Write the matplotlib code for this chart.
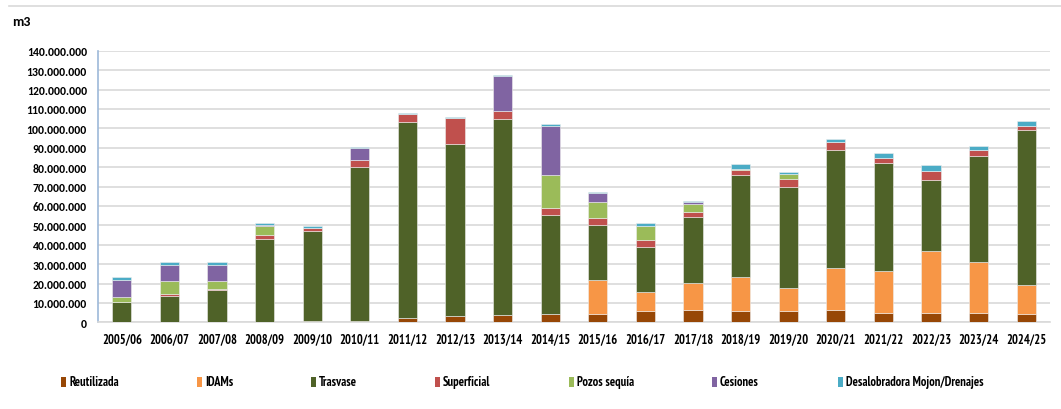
import matplotlib
matplotlib.use("Agg")
import matplotlib.pyplot as plt
from matplotlib.ticker import FuncFormatter, MultipleLocator
from matplotlib.patches import Rectangle
import numpy as np

categories = ["2005/06", "2006/07", "2007/08", "2008/09", "2009/10", "2010/11", "2011/12",
              "2012/13", "2013/14", "2014/15", "2015/16", "2016/17", "2017/18", "2018/19",
              "2019/20", "2020/21", "2021/22", "2022/23", "2023/24", "2024/25"]

# values in millions of m3
reutilizada = [0.0, 0.0, 0.0, 0.0, 0.8, 0.9, 2.0, 3.3, 4.0, 4.1, 4.5, 5.7, 6.2, 5.8, 5.8, 6.4, 4.6, 5.0, 4.6, 4.3]
idams       = [0.0, 0.0, 0.0, 0.0, 0.0, 0.0, 0.0, 0.0, 0.0, 0.0, 17.3, 10.1, 13.9, 17.7, 12.1, 21.6, 22.0, 31.6, 26.3, 15.1]
trasvase    = [10.3, 13.7, 16.5, 43.0, 46.1, 79.2, 101.4, 88.5, 101.0, 51.1, 28.5, 23.2, 34.0, 52.6, 52.0, 60.8, 55.7, 36.9, 55.0, 79.7]
superficial = [0.4, 0.7, 0.7, 2.0, 1.6, 3.6, 4.0, 13.5, 3.9, 3.9, 3.6, 3.6, 2.6, 2.6, 3.8, 4.0, 2.6, 4.7, 2.8, 2.3]
pozos       = [2.5, 6.7, 3.9, 4.8, 0.0, 0.0, 0.0, 0.0, 0.0, 17.0, 8.1, 7.2, 4.3, 0.5, 2.6, 0.0, 0.0, 0.0, 0.0, 0.0]
cesiones    = [8.6, 8.6, 8.6, 0.3, 0.0, 6.2, 0.0, 0.0, 18.1, 25.3, 4.8, 0.0, 0.9, 0.0, 0.0, 0.0, 0.0, 0.0, 0.0, 0.0]
desal       = [1.4, 1.4, 1.2, 1.1, 1.2, 0.5, 0.5, 0.5, 0.5, 1.0, 0.5, 1.4, 0.6, 2.4, 1.0, 1.5, 2.4, 2.9, 2.4, 2.6]

series_names = ["Reutilizada", "IDAMs", "Trasvase", "Superficial", "Pozos sequía", "Cesiones",
                "Desalobradora Mojon/Drenajes"]
series_vals = [reutilizada, idams, trasvase, superficial, pozos, cesiones, desal]
colors = ["#974706", "#F79646", "#4F6228", "#C0504D", "#9BBB59", "#8064A2", "#4BACC6"]

W, H = 1061, 410
fig = plt.figure(figsize=(W / 100, H / 100), dpi=100)
ax = fig.add_axes([98 / W, 1 - 323.3 / H, (1050 - 98) / W, (323.3 - 51.7) / H])

x = np.arange(len(categories))
bottom = np.zeros(len(categories))
for name, vals, c in zip(series_names, series_vals, colors):
    v = np.array(vals) * 1e6
    ax.bar(x, v, width=0.4, bottom=bottom, color=c, edgecolor="#eeeeee", linewidth=0.4,
           label=name, zorder=3)
    bottom += v

ax.set_ylim(0, 140e6)
ax.set_xlim(-0.5, len(categories) - 0.5)
ax.yaxis.set_major_locator(MultipleLocator(10e6))
ax.yaxis.set_major_formatter(FuncFormatter(lambda v, p: f"{int(round(v)):,}".replace(",", ".")))
ax.grid(axis="y", color="#D9D9D9", linewidth=1.2, zorder=0)
ax.set_axisbelow(True)
for s in ["top", "right"]:
    ax.spines[s].set_visible(False)
ax.spines["left"].set_color("#9DB9D9")
ax.spines["left"].set_linewidth(1.2)
ax.spines["bottom"].set_color("#D9D9D9")
ax.spines["bottom"].set_linewidth(1.2)
ax.tick_params(axis="both", length=0, colors="#000000")
ax.tick_params(axis="y", pad=8)
ax.tick_params(axis="x", pad=7)
ax.set_xticks(x)
ax.set_xticklabels(categories, fontsize=9, fontweight="bold",
                   family=["PT Sans Narrow", "DejaVu Sans"])
for t in ax.get_yticklabels():
    t.set_fontsize(8.4)
    t.set_fontweight("bold")
    t.set_family(["Carlito", "DejaVu Sans"])

fig.text(12 / W, 1 - 22 / H, "m3", fontsize=10, fontweight="bold", va="center", ha="left",
         family=["Carlito", "DejaVu Sans"])
fig.add_artist(plt.Line2D([9 / W, 1], [1 - 6.5 / H, 1 - 6.5 / H], color="#D9D9D9", linewidth=1.2))

# legend entries
leg_x = [61, 197, 311, 435, 569, 712, 838]
leg_y = 383
for lx, name, c in zip(leg_x, series_names, colors):
    fig.add_artist(Rectangle((lx / W, (H - leg_y - 5) / H), 5 / W, 10 / H,
                             transform=fig.transFigure, facecolor=c, edgecolor="none"))
    fig.text((lx + 8) / W, 1 - leg_y / H, name, fontsize=9, fontweight="bold",
             va="center", ha="left", family=["PT Sans Narrow", "DejaVu Sans"])

fig.savefig("out.png", dpi=100)
